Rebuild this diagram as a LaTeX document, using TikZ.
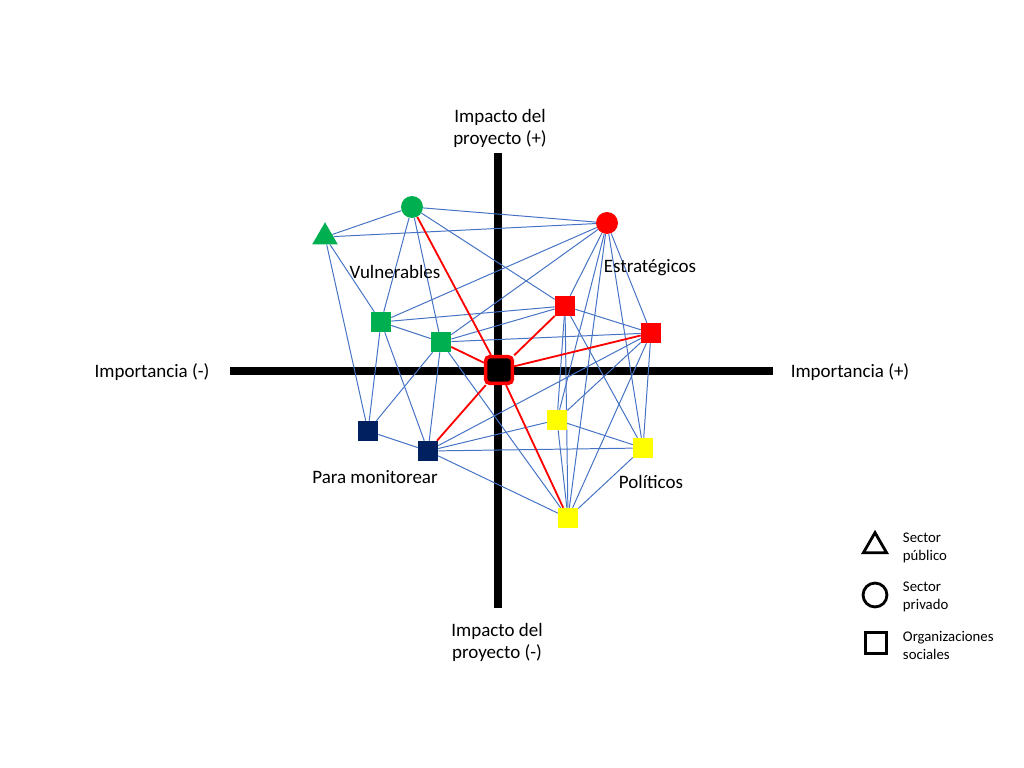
\documentclass[tikz,border=0pt]{standalone}
\usepackage{fontspec}
\setmainfont{Carlito}
\usetikzlibrary{shapes.geometric,backgrounds}
\definecolor{vgreen}{RGB}{0,176,80}
\definecolor{mnavy}{RGB}{0,32,96}
\definecolor{pyellow}{RGB}{255,255,0}
\definecolor{lnkblue}{RGB}{68,114,196}
\begin{document}
\begin{tikzpicture}[x=0.025cm,y=-0.025cm,
  sq/.style={rectangle,minimum size=14.2pt,inner sep=0pt},
  ci/.style={circle,minimum size=15.6pt,inner sep=0pt},
  tri/.style={regular polygon,regular polygon sides=3,minimum size=21pt,inner sep=0pt},
  lnk/.style={draw=lnkblue,line width=0.7pt},
  key/.style={draw=red,line width=1.3pt},
  lbl/.style={font=\fontsize{13.5}{15.6}\selectfont,align=center},
  leg/.style={font=\fontsize{10.5}{12.8}\selectfont,align=left,anchor=west}]
\useasboundingbox (0,0) rectangle (1024,768);
% actores
\node[tri,fill=vgreen] (gt) at (325,237) {};
\node[ci,fill=vgreen] (gc) at (412,207) {};
\node[ci,fill=red] (rc) at (607,223) {};
\node[sq,fill=vgreen] (g1) at (381,322) {};
\node[sq,fill=vgreen] (g2) at (441,342) {};
\node[sq,fill=red] (r1) at (565,306) {};
\node[sq,fill=red] (r2) at (651,333) {};
\node[sq,fill=mnavy] (b1) at (368,431) {};
\node[sq,fill=mnavy] (b2) at (428,451) {};
\node[sq,fill=pyellow] (y1) at (557,420) {};
\node[sq,fill=pyellow] (y2) at (643,448) {};
\node[sq,fill=pyellow] (y3) at (568,518) {};
\node[rectangle,fill=black,draw=red,line width=2.5pt,rounded corners=3pt,minimum size=19pt] (pr) at (499,370) {};
% textos
\node[lbl] (ip) at (500,128) {Impacto del\\proyecto (+)};
\node[lbl] (im) at (497,642) {Impacto del\\proyecto (-)};
\node[lbl] (gm) at (152,372) {Importancia (-)};
\node[lbl] (gp) at (850,372) {Importancia (+)};
\node[lbl] (vu) at (395,272) {Vulnerables};
\node[lbl] (es) at (650,268) {Estratégicos};
\node[lbl] (mo) at (375,477) {Para monitorear};
\node[lbl] (po) at (651,482) {Políticos};
% leyenda
\node[regular polygon,regular polygon sides=3,draw,line width=2pt,minimum size=19pt,inner sep=0pt] (lt) at (875,546) {};
\node[circle,draw,line width=2pt,minimum size=17pt,inner sep=0pt] (lc) at (875,595) {};
\node[rectangle,draw,line width=2pt,minimum size=15pt,inner sep=0pt] (ls) at (876,643) {};
\node[leg] (tt) at (898,548) {Sector\\público};
\node[leg] (tc) at (898,597) {Sector\\privado};
\node[leg] (ts) at (898,645) {Organizaciones\\sociales};
\begin{pgfonlayer}{background}
\draw[line width=5.7pt](230,371)--(773,371);
\draw[line width=5.7pt](498,153)--(498,608);
\foreach \a/\b in {gt/gc,gt/rc,gt/g1,gt/b1,gc/rc,gc/g1,gc/g2,gc/r1,
  rc/g1,rc/g2,rc/r1,rc/r2,rc/y1,rc/y2,rc/y3,g1/g2,g1/r1,g1/b1,g1/b2,
  g2/r1,g2/r2,g2/b1,g2/b2,g2/y3,r1/r2,r1/y1,r1/y2,r1/y3,
  r2/b2,r2/y1,r2/y2,r2/y3,b1/b2,b2/y1,b2/y2,b2/y3,y1/y2,y1/y3,y2/y3}
  \draw[lnk](\a)--(\b);
\foreach \b in {gc,g2,r1,r2,b2,y3}
  \draw[key](pr)--(\b);
\end{pgfonlayer}
\end{tikzpicture}
\end{document}
